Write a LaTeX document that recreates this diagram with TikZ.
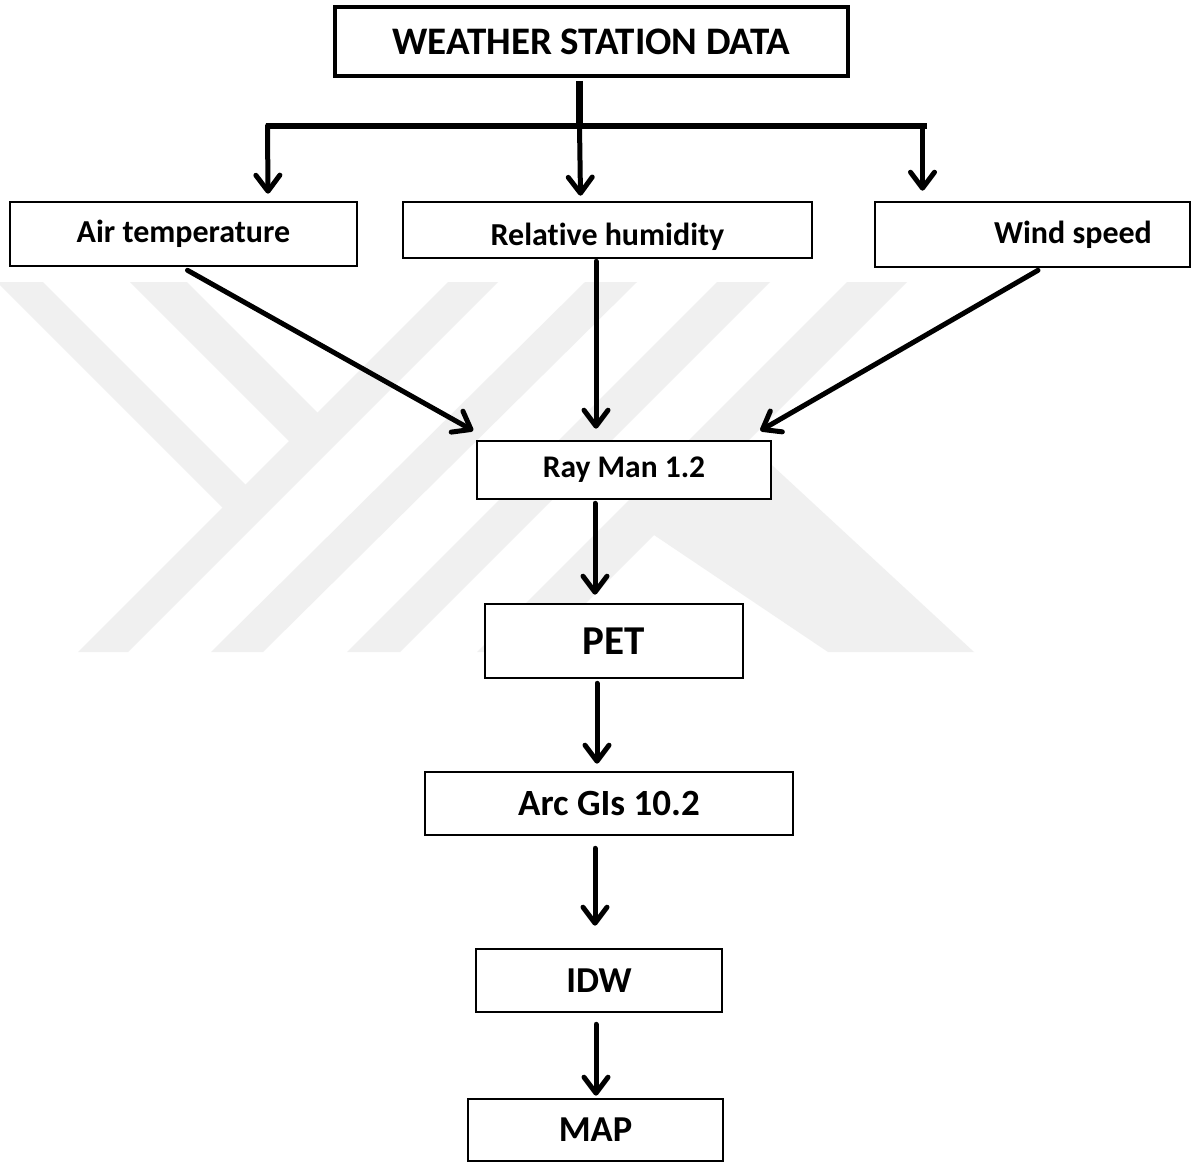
\documentclass[tikz,border=0pt]{standalone}
\usepackage{fontspec}
\setmainfont{Carlito}[Ligatures=NoCommon]
\usetikzlibrary{arrows.meta,calc}
\definecolor{wm}{RGB}{240,240,240}
\tikzset{
  box/.style={draw, line width=2.6pt, fill=white, inner sep=0pt,
    font=\bfseries\fontsize{32}{36}\selectfont},
  arr/.style={line width=5pt, line cap=round,
    -{Straight Barb[length=16pt, width=24pt, round]}},
  bar/.style={line width=6.5pt},
  wmark/.style={fill=wm}
}
\begin{document}
\begin{tikzpicture}[x=1pt,y=-1pt]
\fill[white] (0,0) rectangle (1192,1162);
\useasboundingbox (0,0) rectangle (1192,1162);
% watermark
\fill[wmark] (0,282) -- (43,282) -- (258,497) -- (235,520) -- (0,285) -- cycle;
\fill[wmark] (130,282) -- (187,282) -- (330,425) -- (301.5,453.5) -- cycle;
\fill[wmark] (448,282) -- (498,282) -- (128,652) -- (78,652) -- cycle;
\fill[wmark] (585,282) -- (637,282) -- (263,652) -- (211,652) -- cycle;
\fill[wmark] (717,282) -- (770,282) -- (400,652) -- (347,652) -- cycle;
\fill[wmark] (847,282) -- (907,282) -- (537,652) -- (477,652) -- cycle;
\fill[wmark] (620,540) -- (720,440) -- (747,442) -- (974,652) -- (828,652) -- (654,535) -- cycle;
% boxes
\node[box, line width=3.5pt, minimum width=513pt, minimum height=69pt,
  font=\bfseries\fontsize{39}{44}\selectfont] (wsd) at (591.5,41.5) {WEATHER STATION DATA};
\node[box, minimum width=347pt, minimum height=64pt] (air) at (183.5,234) {Air temperature};
\node[box, minimum width=409pt, minimum height=56pt, text height=30pt, text depth=0pt] (rh) at (607.5,230) {Relative humidity};
\node[box, minimum width=315pt, minimum height=65pt] (wind) at (1032.5,234.5) {\hspace*{81pt}Wind speed};
\node[box, minimum width=294pt, minimum height=58pt,
  font=\bfseries\fontsize{31.5}{36}\selectfont] (ray) at (624,470) {Ray Man 1.2};
\node[box, minimum width=258pt, minimum height=74pt,
  font=\bfseries\fontsize{41}{46}\selectfont] (pet) at (614,641) {PET};
\node[box, minimum width=368pt, minimum height=63pt,
  font=\bfseries\fontsize{37}{40}\selectfont] (arc) at (609,803.5) {Arc GIs 10.2};
\node[box, minimum width=246pt, minimum height=63pt,
  font=\bfseries\fontsize{36.5}{40}\selectfont] (idw) at (599,980.5) {IDW};
\node[box, minimum width=255pt, minimum height=62pt,
  font=\bfseries\fontsize{36.5}{40}\selectfont] (map) at (595.5,1130) {MAP};
% top distribution
\coordinate (j) at ($(wsd.south)+(-12,48)$);
\coordinate (bl) at ($(j)+(-314,0)$);
\coordinate (br) at ($(j)+(347,0)$);
\draw[bar] ($(wsd.south)+(-12,3)$) -- (j);
\draw[bar] (bl) -- (br);
\draw[arr] ($(bl)+(2,0)$) -- ($(air.north)+(84.5,-7)$);
\draw[arr] (j) -- ($(rh.north)+(-27,-5)$);
\draw[arr] ($(br)+(-4,0)$) -- ($(wind.north)+(-110,-10)$);
% to Ray Man
\draw[arr] ($(air.south)+(4,3)$) -- ($(ray.north west)+(-2.5,-9)$);
\draw[arr] ($(rh.south)+(-11.5,2)$) -- ($(ray.north)+(-28,-11)$);
\draw[arr] ($(wind.south)+(5.5,2)$) -- ($(ray.north east)+(-12,-9)$);
% chain
\draw[arr] ($(ray.south)+(-29,3)$) -- ($(pet.north)+(-19,-8)$);
\draw[arr] ($(pet.south)+(-17,4)$) -- ($(arc.north)+(-12,-7)$);
\draw[arr] ($(arc.south)+(-14,12)$) -- ($(idw.north)+(-4,-22)$);
\draw[arr] ($(idw.south)+(-3,11)$) -- ($(map.north)+(0.5,-2)$);
\end{tikzpicture}
\end{document}
